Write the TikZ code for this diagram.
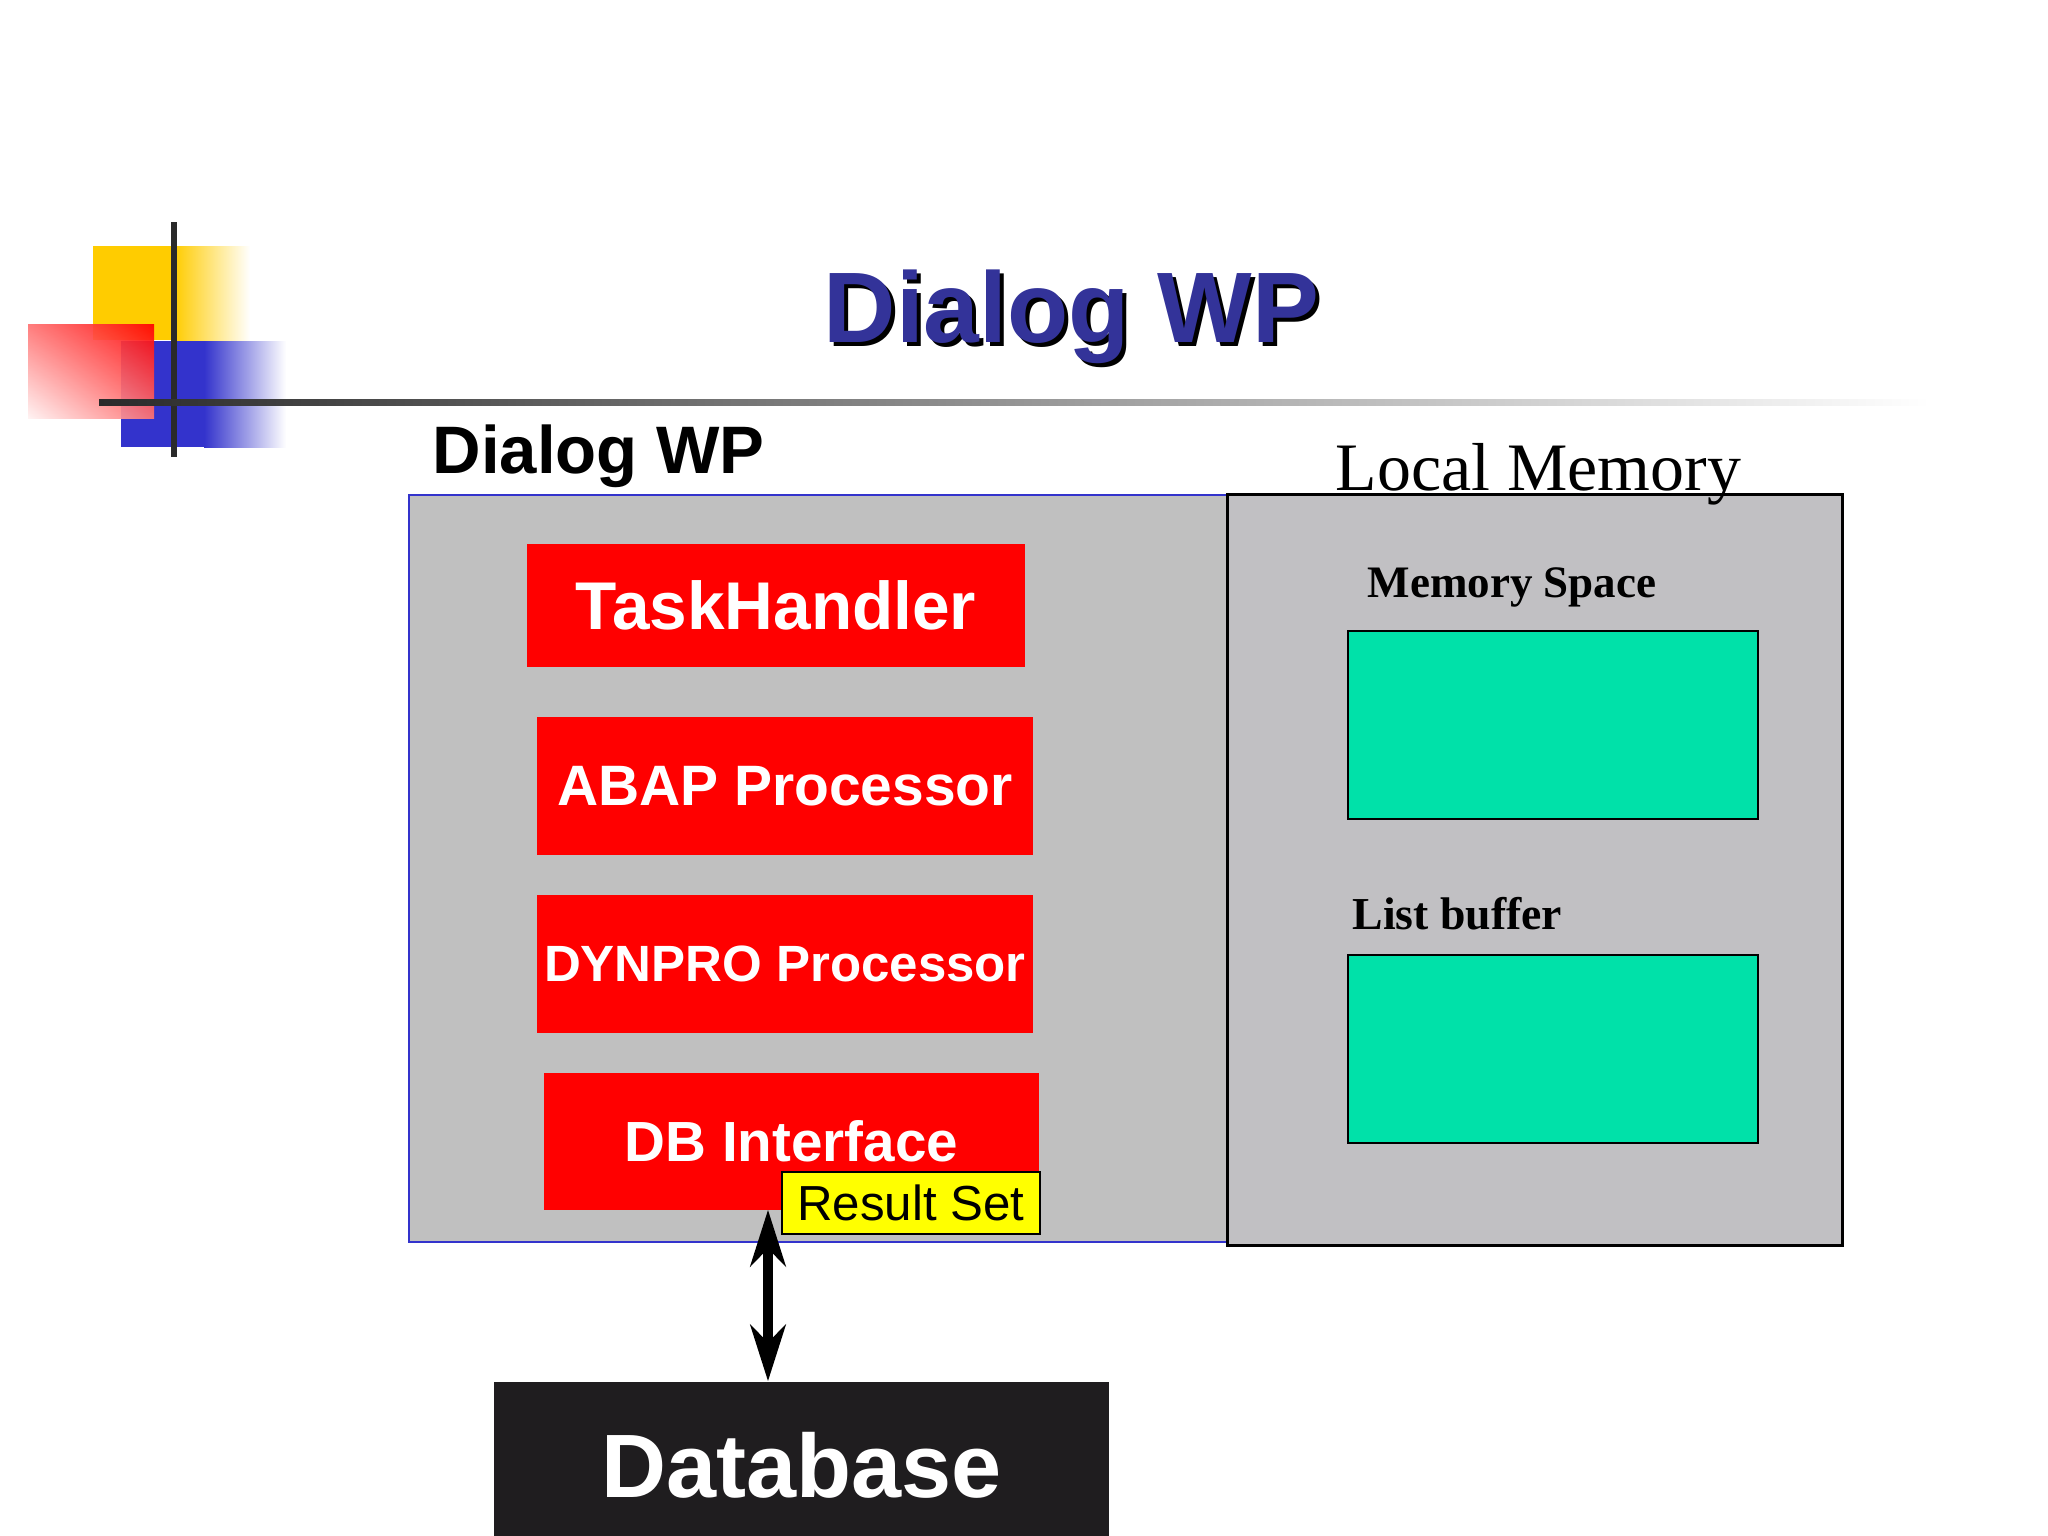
\documentclass[tikz,border=0pt]{standalone}
\usepackage{fontspec}
\setmainfont{Liberation Serif}
\newfontfamily\arial{Liberation Sans}
\usetikzlibrary{arrows.meta,shadings}
\definecolor{titleblue}{HTML}{333399}
\definecolor{logoyellow}{HTML}{FFCC00}
\definecolor{logoblue}{HTML}{3333CC}
\definecolor{boxred}{HTML}{FF0000}
\definecolor{panelgray}{HTML}{C0C0C0}
\definecolor{panelgray2}{HTML}{C1C0C3}
\definecolor{memgreen}{HTML}{00E1A9}
\definecolor{resyellow}{HTML}{FFFF00}
\definecolor{dbblack}{HTML}{1F1D1F}
\definecolor{linegray}{HTML}{2A2A2A}
\tikzset{
  redbox/.style={fill=boxred, draw=boxred, text=white, inner sep=0pt, minimum width=4.94cm, minimum height=1.36cm},
  greenbox/.style={fill=memgreen, draw=black, line width=0.6pt, minimum width=4.10cm, minimum height=1.88cm, inner sep=0pt},
  lbl/.style={inner sep=0pt, anchor=base west},
  dbarrow/.style={line width=3.1pt, {Stealth[length=16pt,width=10pt,inset=5pt]}-{Stealth[length=16pt,width=10pt,inset=5pt]}}
}
\begin{document}
\begin{tikzpicture}[x=0.01cm,y=-0.01cm]
\useasboundingbox (0,0) rectangle (2048,1536);
\clip (0,0) rectangle (2048,1536);
\fill[white] (0,0) rectangle (2048,1536);
% logo
\fill[logoyellow] (93,246) rectangle (175,340);
\shade[left color=logoyellow, right color=white] (174,246) rectangle (250,340);
\fill[logoblue] (121,341) rectangle (205,447);
\shade[left color=logoblue, right color=white] (204,341) rectangle (286,447);
\shade[opacity=0.92, upper right=red, upper left=red!55, lower right=red!55, lower left=red!5] (28,324) rectangle (154,418);
\fill[linegray] (171,222) rectangle (177,457);
\shade[left color=linegray, middle color=linegray!75, right color=white] (99,399) rectangle (1930,405);
% titles
\node[lbl, text=black, font=\arial\bfseries\fontsize{28.5}{34}\selectfont] (titleshadow) at (827,346) {Dialog WP};
\node[lbl, text=titleblue, font=\arial\bfseries\fontsize{28.5}{34}\selectfont] (title) at (823,342) {Dialog WP};
\node[lbl, font=\arial\bfseries\fontsize{19.1}{23}\selectfont] (sub) at (432,473) {Dialog WP};
% panels
\node[fill=panelgray, draw=logoblue, line width=0.6pt, minimum width=8.19cm, minimum height=7.47cm, inner sep=0pt] (wp) at (818.5,868.5) {};
\node[fill=panelgray2, draw=black, line width=0.8pt, minimum width=6.14cm, minimum height=7.50cm, inner sep=0pt] (lm) at (1535,870) {};
\node[lbl, font=\fontsize{19.3}{23}\selectfont] (lmlabel) at (1335,490) {Local Memory};
\node[lbl, font=\bfseries\fontsize{12.8}{15}\selectfont] (mslabel) at (1367,597) {Memory Space};
\node[greenbox] (ms) at (1553,725) {};
\node[lbl, font=\bfseries\fontsize{13}{15}\selectfont] (lblabel) at (1352,929) {List buffer};
\node[greenbox] (lb) at (1553,1049) {};
% red boxes
\node[redbox, minimum width=4.96cm, minimum height=1.21cm, font=\arial\bfseries\fontsize{19.2}{23}\selectfont] (th) at (776,605.5) {TaskHandler};
\node[redbox, font=\arial\bfseries\fontsize{16.2}{19}\selectfont] (abap) at (785,786) {ABAP Processor};
\node[redbox, font=\arial\bfseries\fontsize{14.5}{17}\selectfont] (dyn) at (785,964) {DYNPRO Processor};
\node[redbox, minimum width=4.93cm, minimum height=1.35cm, font=\arial\bfseries\fontsize{16.1}{19}\selectfont] (dbi) at (791.5,1141.5) {DB Interface};
\node[fill=resyellow, draw=black, line width=0.6pt, minimum width=2.58cm, minimum height=0.62cm, inner sep=0pt, font=\arial\fontsize{14}{16}\selectfont] (rs) at (911,1203) {Result Set};
% database
\node[fill=dbblack, text=white, minimum width=6.15cm, minimum height=1.66cm, inner sep=0pt, font=\arial\bfseries\fontsize{25.6}{30}\selectfont] (db) at (801.5,1465) {Database};
% arrow
\coordinate (ax) at (768,0);
\draw[dbarrow] (dbi.south -| ax) -- (db.north -| ax);
\end{tikzpicture}
\end{document}
